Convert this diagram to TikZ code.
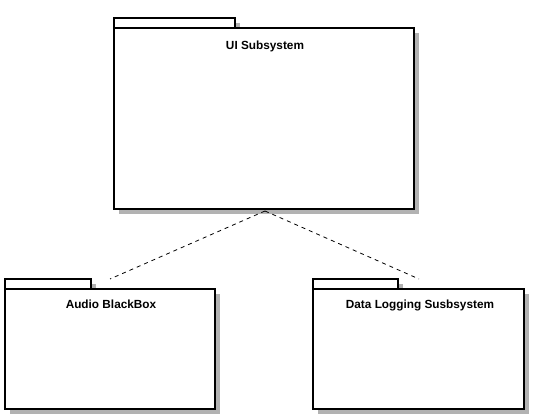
\documentclass[tikz,border=0pt]{standalone}
\usepackage{fontspec}
\setmainfont{Liberation Sans}
\usetikzlibrary{shadows}
\begin{document}
\begin{tikzpicture}[x=1pt,y=1pt,
  pkg/.style={draw=black, line width=1.6pt, fill=white, rectangle, inner sep=0pt,
    drop shadow={shadow xshift=5pt, shadow yshift=-5pt, fill=black!30, opacity=1}},
  pkgtitle/.style={font=\bfseries\fontsize{11.8}{14}\selectfont, anchor=base, inner sep=0pt},
  dep/.style={draw=black, line width=0.8pt, dash pattern=on 4pt off 4pt}
]
\useasboundingbox (0,0) rectangle (535,419);
% tabs first, so the body covers their shadows
\node[pkg, minimum width=121pt, minimum height=10pt] (uitab) at (174.5,396) {};
\node[pkg, minimum width=300pt, minimum height=181pt] (ui) at (264,300.5) {};
\node[pkgtitle] (uititle) at (265,369.5) {UI Subsystem};

\node[pkg, minimum width=86pt, minimum height=10pt] (audiotab) at (48,135) {};
\node[pkg, minimum width=210pt, minimum height=120pt] (audio) at (110,70) {};
\node[pkgtitle] (audiotitle) at (111,110.5) {Audio BlackBox};

\node[pkg, minimum width=85pt, minimum height=10pt] (datatab) at (355.5,135) {};
\node[pkg, minimum width=211pt, minimum height=120pt] (data) at (418.5,70) {};
\node[pkgtitle] (datatitle) at (420,110.5) {Data Logging Susbsystem};

\coordinate (uibottom) at (265,208);
\coordinate (audioend) at (110,140);
\coordinate (dataend) at (419,140);
\draw[dep] (uibottom) -- (audioend);
\draw[dep] (uibottom) -- (dataend);
\end{tikzpicture}
\end{document}
